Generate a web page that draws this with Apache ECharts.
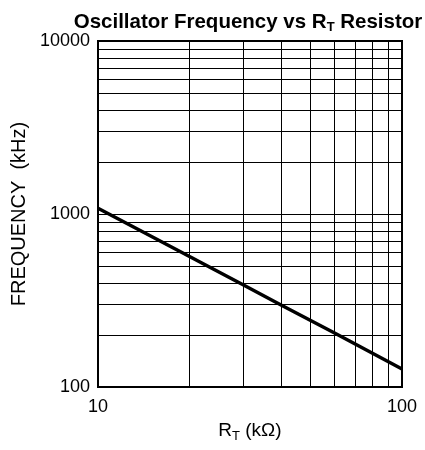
<!DOCTYPE html>
<html>
<head>
<meta charset="utf-8">
<script src="https://cdn.jsdelivr.net/npm/echarts@6/dist/echarts.min.js"></script>
<style>
  html, body { margin: 0; padding: 0; background: #fff; }
  #chart { width: 425px; height: 450px; }
</style>
</head>
<body>
<div id="chart"></div>
<script>
// RT resistor (kOhm) vs oscillator frequency (kHz)
const rtValues = [10, 20, 30, 40, 60, 100];
const freqValues = [1080, 568, 390, 298, 205, 127];

// log grid lines between the decades
const xMinorGrid = [20, 30, 40, 50, 60, 70, 80, 90];
const yMinorGrid = [200, 300, 400, 500, 600, 700, 800, 900,
                    2000, 3000, 4000, 5000, 6000, 7000, 8000, 9000];

const font = 'Liberation Sans, Arial, sans-serif';

let myChart = echarts.init(document.getElementById('chart'));

let gridMarks = [];
xMinorGrid.forEach(v => gridMarks.push({ xAxis: v }));
yMinorGrid.forEach(v => gridMarks.push({ yAxis: v }));

myChart.setOption({
    animation: false,
    backgroundColor: '#fff',
    title: {
        text: '{b|Oscillator Frequency vs R}{s|T}{b| Resistor}',
        left: 243,
        textAlign: 'center',
        top: 5,
        textStyle: {
            rich: {
                b: { fontFamily: font, fontSize: 20.5, fontWeight: 'bold', color: '#000' },
                s: { fontFamily: font, fontSize: 13, fontWeight: 'bold', color: '#000', padding: [11, 0, 0, 0] }
            }
        }
    },
    grid: {
        left: 98, right: 23, top: 41, bottom: 63,
        show: true, borderColor: '#000', borderWidth: 2
    },
    xAxis: {
        type: 'log',
        logBase: 10,
        min: 10,
        max: 100,
        name: '{n|R}{s|T}{n| (kΩ)}',
        nameLocation: 'middle',
        nameGap: 32,
        nameTextStyle: {
            rich: {
                n: { fontFamily: font, fontSize: 19, color: '#000' },
                s: { fontFamily: font, fontSize: 13, color: '#000', padding: [11, 0, 0, 0] }
            }
        },
        axisLine: { lineStyle: { color: '#000', width: 2 } },
        axisTick: { show: false },
        axisLabel: { color: '#000', fontFamily: font, fontSize: 18, margin: 11, formatter: v => String(v) },
        splitLine: { show: true, lineStyle: { color: '#000', width: 1 } }
    },
    yAxis: {
        type: 'log',
        logBase: 10,
        min: 100,
        max: 10000,
        name: 'FREQUENCY  (kHz)',
        nameLocation: 'middle',
        nameGap: 69,
        nameRotate: 90,
        nameTextStyle: { fontFamily: font, fontSize: 20, color: '#000' },
        axisLine: { lineStyle: { color: '#000', width: 2 } },
        axisTick: { show: false },
        axisLabel: { color: '#000', fontFamily: font, fontSize: 18, margin: 8, formatter: v => String(v) },
        splitLine: { show: true, lineStyle: { color: '#000', width: 1 } }
    },
    series: [
        {
            type: 'line',
            data: [],
            silent: true,
            markLine: {
                silent: true,
                symbol: ['none', 'none'],
                label: { show: false },
                lineStyle: { color: '#000', width: 1, type: 'solid' },
                animation: false,
                data: gridMarks
            }
        },
        {
            type: 'line',
            data: rtValues.map((x, i) => [x, freqValues[i]]),
            showSymbol: false,
            lineStyle: { color: '#000', width: 3.5 },
            z: 5
        }
    ]
});
</script>
</body>
</html>
